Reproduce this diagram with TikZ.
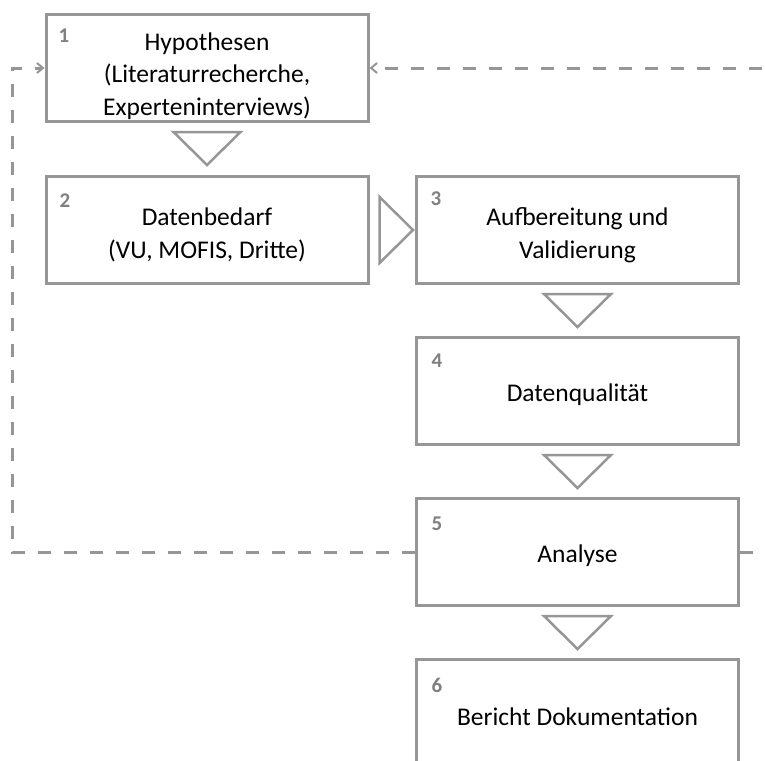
\documentclass[tikz,border=0pt]{standalone}
\usepackage{fontspec}
\setmainfont{Carlito}
\usetikzlibrary{arrows.meta,calc}
\definecolor{lg}{HTML}{969696}
\definecolor{numg}{HTML}{808080}
\tikzset{
  box/.style={draw=lg,line width=3pt,minimum width=322pt,minimum height=107pt,inner sep=0pt,fill=white},
  txt/.style={font=\fontsize{25.5}{32.5}\selectfont,align=center,inner sep=0pt,text=black},
  num/.style={font=\fontsize{21}{21}\selectfont\bfseries,text=numg,inner sep=0pt},
  tri/.style={draw=lg,line width=2.5pt,line join=miter},
  loop/.style={draw=lg,line width=3pt,dash pattern=on 13pt off 13pt,-{Straight Barb[length=6pt,width=10pt,line width=2pt]}}
}
\begin{document}
\begin{tikzpicture}[x=1pt,y=-1pt]
\useasboundingbox (0,0) rectangle (765,760);
\clip (0,0) rectangle (765,760);
% boxes
\node[box] (b1) at (207,68) {};
\node[box] (b2) at (207,230) {};
\node[box] (b3) at (577.5,230) {};
\node[box] (b4) at (577.5,391) {};
\node[box] (b5) at (577.5,552) {};
\node[box] (b6) at (577.5,713) {};
% texts
\node[txt] (t1) at (207,76) {Hypothesen\\(Literaturrecherche,\\Experteninterviews)};
\node[txt] (t2) at (207,235) {Datenbedarf\\(VU, MOFIS, Dritte)};
\node[txt] (t3) at (577.5,235) {Aufbereitung und\\Validierung};
\node[txt] (t4) at (577.5,395) {Datenqualität};
\node[txt] (t5) at (577.5,556) {Analyse};
\node[txt] (t6) at (577.5,717) {Bericht Dokumentation};
% numbers
\node[num] (n1) at (64,36) {1};
\node[num] (n2) at (65,201) {2};
\node[num] (n3) at (436,199) {3};
\node[num] (n4) at (437,361) {4};
\node[num] (n5) at (437,524) {5};
\node[num] (n6) at (437,685) {6};
% triangles (flow arrows)
\draw[tri] ($(b1.south)+(-33.5,9)$) -- ++(67,0) -- ($(b1.south)+(0,42)$) -- cycle;
\draw[tri] ($(b3.south)+(-33.5,9)$) -- ++(67,0) -- ($(b3.south)+(0,42)$) -- cycle;
\draw[tri] ($(b4.south)+(-33.5,9)$) -- ++(67,0) -- ($(b4.south)+(0,42)$) -- cycle;
\draw[tri] ($(b5.south)+(-33.5,9)$) -- ++(67,0) -- ($(b5.south)+(0,42)$) -- cycle;
\draw[tri] ($(b2.east)+(10,-33)$) -- ++(0,66) -- ($(b3.west)+(-2,0)$) -- cycle;
% feedback loops
\coordinate (lc1) at (12,552);
\coordinate (lc2) at (12,68);
\coordinate (rc1) at (795,552);
\coordinate (rc2) at (795,68);
\draw[loop] (b5.west) -- (lc1) -- (lc2) -- (lc2 -| b1.west);
\draw[loop] (b5.east) -- (rc1) -- (rc2) -- (rc2 -| b1.east);
\end{tikzpicture}
\end{document}
